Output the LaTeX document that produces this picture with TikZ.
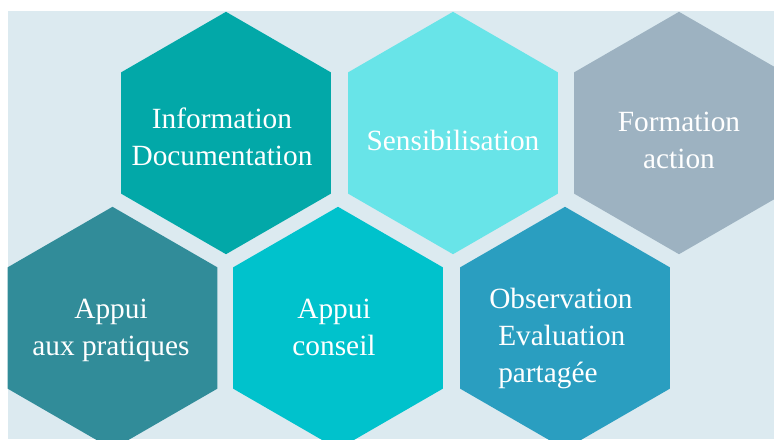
\documentclass[tikz,border=0pt]{standalone}
\usepackage{fontspec}
\setmainfont{Liberation Serif}
\usepackage{xcolor}
\usepackage{tikz}
\usetikzlibrary{shapes.geometric,positioning}

\definecolor{bgpale}{RGB}{220,234,240}
\definecolor{hexteal}{RGB}{2,168,168}
\definecolor{hexaqua}{RGB}{104,228,232}
\definecolor{hexgrey}{RGB}{157,178,193}
\definecolor{hexpetrol}{RGB}{49,140,153}
\definecolor{hexcyan}{RGB}{0,194,204}
\definecolor{hexblue}{RGB}{42,158,192}

\tikzset{
  hexa/.style={regular polygon, regular polygon sides=6, shape border rotate=30,
    minimum size=181.8pt, inner sep=0pt, draw=none},
  hextxt/.style={text=white, align=center, inner sep=0pt,
    font=\fontsize{22}{27.75}\selectfont}
}

\begin{document}
\begin{tikzpicture}[x=0.75pt,y=0.75pt,yscale=-1]
\useasboundingbox (0,0) rectangle (774,439);
\clip (0,0) rectangle (774,439);

%background
\fill[bgpale] (8,11) rectangle (774,439);

%top row
\node[hexa, fill=hexteal] (info) at (226,133) {};
\node[hexa, fill=hexaqua] (sensi) at (453,133) {};
\node[hexa, fill=hexgrey] (forma) at (679,133) {};
%bottom row
\node[hexa, fill=hexpetrol] (pratiq) at (112.5,328) {};
\node[hexa, fill=hexcyan] (conseil) at (338,328) {};
\node[hexa, fill=hexblue] (observ) at (565,328) {};

% Text Node (anchor = baseline of last line)
\node[hextxt, anchor=base] (infotxt) at (222,165) {Information\\Documentation};
\node[hextxt, anchor=base] (sensitxt) at (453,150) {Sensibilisation};
\node[hextxt, anchor=base] (formatxt) at (679,168) {Formation\\action};
\node[hextxt, anchor=base] (pratiqtxt) at (111,355) {Appui\\aux pratiques};
\node[hextxt, anchor=base] (conseiltxt) at (334,355) {Appui\\conseil};
\node[hextxt, anchor=base west, align=left] (observtxt) at (489,382)
  {Observation\\\hspace*{6.75pt}Evaluation\\\hspace*{6.75pt}partagée};
\end{tikzpicture}
\end{document}
